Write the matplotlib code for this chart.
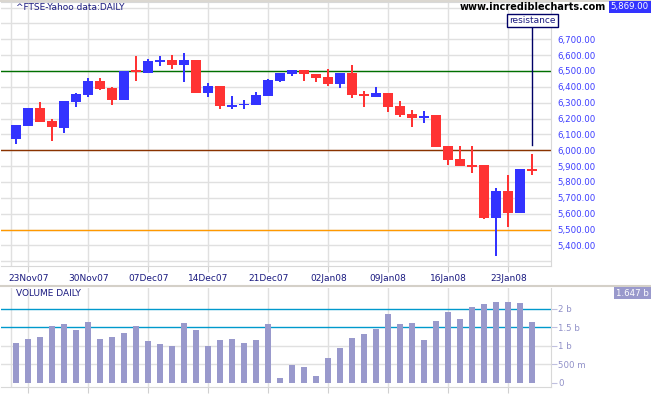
import numpy as np
import matplotlib
matplotlib.use('Agg')
from matplotlib import pyplot as plt
from matplotlib.lines import Line2D

# trading-day index of the weekly date ticks
tick_idx = [1, 6, 11, 16, 21, 26, 31, 36, 41]
tick_labels = ['23Nov07', '30Nov07', '07Dec07', '14Dec07', '21Dec07',
               '02Jan08', '09Jan08', '16Jan08', '23Jan08']

opens = [6073, 6155, 6267, 6185, 6143, 6307, 6349, 6437, 6395, 6319,
         6502, 6489, 6563, 6569, 6538, 6569, 6363, 6405, 6280, 6287,
         6288, 6344, 6437, 6483, 6506, 6479, 6462, 6420, 6487, 6350,
         6338, 6361, 6279, 6229, 6210, 6223, 6027, 5947, 5904, 5907,
         5573, 5743, 5605, 5880]
highs = [6160, 6267, 6305, 6197, 6311, 6361, 6456, 6456, 6399, 6500,
         6595, 6576, 6593, 6601, 6613, 6569, 6424, 6405, 6342, 6317,
         6368, 6451, 6487, 6506, 6506, 6479, 6513, 6487, 6538, 6374,
         6399, 6361, 6311, 6254, 6245, 6223, 6027, 6027, 6027, 5907,
         5762, 5844, 5882, 5975]
lows = [6038, 6155, 6180, 6059, 6111, 6275, 6338, 6382, 6286, 6319,
        6439, 6489, 6530, 6513, 6433, 6363, 6338, 6262, 6258, 6258,
        6288, 6344, 6433, 6471, 6439, 6433, 6407, 6395, 6332, 6275,
        6338, 6243, 6210, 6149, 6175, 6021, 5907, 5901, 5857, 5569,
        5334, 5516, 5605, 5844]
closes = [6160, 6267, 6180, 6145, 6311, 6355, 6437, 6388, 6319, 6500,
          6498, 6563, 6566, 6540, 6569, 6363, 6404, 6279, 6282, 6289,
          6349, 6443, 6487, 6506, 6479, 6458, 6420, 6487, 6351, 6348,
          6361, 6275, 6225, 6206, 6213, 6021, 5941, 5901, 5902, 5573,
          5743, 5605, 5882, 5869]
# volume in billions
volumes = [1.085, 1.184, 1.238, 1.534, 1.597, 1.427, 1.65, 1.184, 1.238, 1.354,
           1.534, 1.13, 1.058, 1.004, 1.623, 1.427, 1.004, 1.157, 1.184, 1.085,
           1.157, 1.597, 0.135, 0.485, 0.431, 0.188, 0.673, 0.942, 1.211, 1.319,
           1.454, 1.857, 1.597, 1.615, 1.157, 1.669, 1.911, 1.723, 2.046, 2.127,
           2.18, 2.18, 2.153, 1.647]

price_ticks = list(range(5400, 6701, 100))
vol_ticks = [0, 0.5, 1, 1.5, 2]
vol_tick_labels = ['0', '500 m', '1 b', '1.5 b', '2 b']

W, H = 651, 395
UP = '#3333ff'
DOWN = '#ff3333'
GRID = '#e0e0e0'
NAVY = '#1a1a80'

fig = plt.figure(figsize=(W / 100, H / 100), dpi=100)

def fx(px):
  return px / W

def fy(py):
  return 1 - py / H

ax = fig.add_axes([fx(1), fy(266), fx(550), fy(2) - fy(266)])
axv = fig.add_axes([fx(1), fy(387), fx(550), fy(288) - fy(387)])

x = np.arange(len(closes))
o = np.array(opens, float)
c = np.array(closes, float)
hi = np.array(highs, float)
lo = np.array(lows, float)
cols = [UP if cc >= oo else DOWN for oo, cc in zip(o, c)]

# price panel
for yv in range(5300, 6901, 100):
  ax.axhline(yv, color=GRID, lw=1, zorder=0)
for xv in tick_idx + [-0.47]:
  ax.axvline(xv, color=GRID, lw=1, zorder=0)
ax.axhline(6500, color='#007000', lw=1, zorder=1)
ax.axhline(6000, color='#8b3300', lw=1, zorder=1)
ax.axhline(5500, color='#ff9900', lw=1, zorder=1)

ax.bar(x, hi - lo, bottom=lo, width=2 / 12, color=cols, zorder=2)
bot = np.minimum(o, c)
ht = np.maximum(np.abs(c - o), 11)
bot = np.where(np.abs(c - o) < 11, (o + c) / 2 - 5.5, bot)
ax.bar(x, ht, bottom=bot, width=10 / 12, color=cols, zorder=3)

# resistance marker
ax.plot([43, 43], [6033, 6790], color='#000066', lw=1, zorder=4, clip_on=False)
ax.text(43, 6818, 'resistance', fontsize=6.5, color=NAVY, ha='center', va='center',
        bbox=dict(boxstyle='square,pad=0.22', fc='white', ec='#000066', lw=1),
        zorder=5, clip_on=False)

ax.set_xlim(-1.275, 44.56)
ax.set_ylim(5270, 6935)
ax.set_xticks(tick_idx)
ax.set_xticklabels(tick_labels, fontsize=6.5, color=NAVY)
ax.tick_params(axis='x', length=4, color='#d0d0d0', pad=2)
ax.yaxis.tick_right()
ax.set_yticks(price_ticks)
ax.set_yticklabels(['{:,.2f}'.format(v) for v in price_ticks], fontsize=6.2, color='#3c3cff')
ax.tick_params(axis='y', length=0, pad=4.3)
ax.spines['left'].set_visible(False)
for s in ['right', 'bottom', 'top']:
  ax.spines[s].set_color('#d8d8d8')

# volume panel
for yv in [0.5, 1]:
  axv.axhline(yv, color=GRID, lw=1, zorder=0)
for xv in tick_idx + [-0.47]:
  axv.axvline(xv, color=GRID, lw=1, zorder=0)
axv.axhline(1.5, color='#0099cc', lw=1, zorder=1)
axv.axhline(2, color='#0099cc', lw=1, zorder=1)
axv.bar(x, volumes, width=0.5, color='#9999cc', zorder=2)
axv.set_xlim(-1.275, 44.56)
axv.set_ylim(-0.108, 2.557)
axv.set_xticks(tick_idx)
axv.set_xticklabels([])
axv.tick_params(axis='x', length=4, color='#d0d0d0')
axv.yaxis.tick_right()
axv.set_yticks(vol_ticks)
axv.set_yticklabels(vol_tick_labels, fontsize=6.2, color='#9090c8')
axv.tick_params(axis='y', length=4, color='#c0c0e0', pad=1)
axv.spines['left'].set_visible(False)
axv.spines['top'].set_visible(False)
for s in ['right', 'bottom']:
  axv.spines[s].set_color('#d8d8d8')

# header texts and value boxes
fig.text(fx(16), fy(7), '^FTSE-Yahoo data:DAILY', fontsize=6.5, color=NAVY, va='center')
fig.text(fx(16), fy(293), 'VOLUME DAILY', fontsize=6.5, color=NAVY, va='center')
fig.text(fx(606), fy(7), 'www.incrediblecharts.com', fontsize=7, weight='bold',
         color='black', ha='right', va='center')
fig.text(fx(649), fy(7), '5,869.00', fontsize=6.2, color='white', ha='right', va='center',
         bbox=dict(boxstyle='square,pad=0.2', fc=UP, ec='none'))
fig.text(fx(649), fy(293), '1.647 b', fontsize=6.2, color='white', ha='right', va='center',
         bbox=dict(boxstyle='square,pad=0.2', fc='#9999cc', ec='none'))

fig.add_artist(Line2D([0, 1], [fy(0.5), fy(0.5)], transform=fig.transFigure,
                      color='#d4d0c8', lw=1.2))
fig.add_artist(Line2D([0, 1], [fy(286), fy(286)], transform=fig.transFigure,
                      color='#d4d0c8', lw=1.5))

fig.savefig('out.png', dpi=100)
